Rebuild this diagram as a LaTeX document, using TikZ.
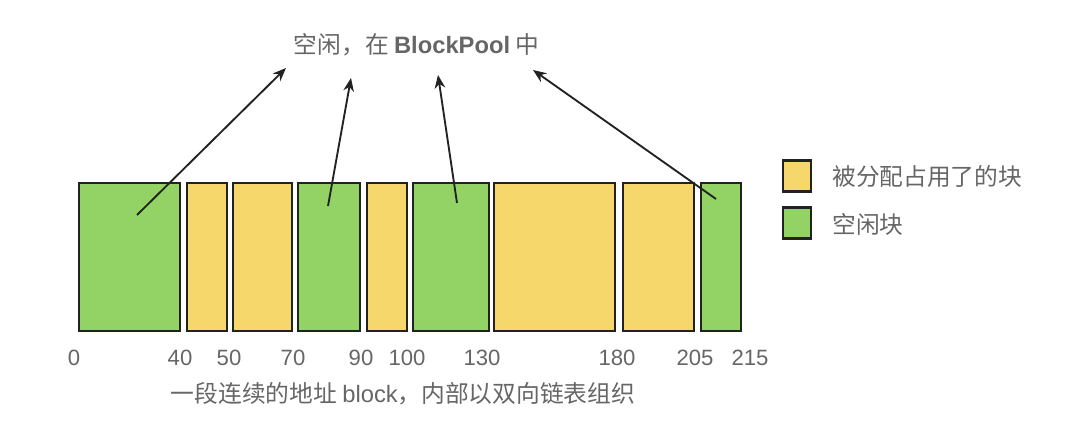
\documentclass[tikz,border=0pt]{standalone}
\usepackage{fontspec}
\setmainfont{Liberation Sans}
\newfontfamily\cjk{Noto Sans CJK SC}
\usetikzlibrary{arrows, arrows.meta}
\definecolor{usedfill}{HTML}{F5D76B}
\definecolor{freefill}{HTML}{93D365}
\definecolor{labelgray}{HTML}{666666}
\definecolor{edgeblack}{HTML}{222222}
\tikzset{
  block/.style={draw=edgeblack, line width=1.7pt, anchor=north west, inner sep=0pt, minimum height=148*0.75pt},
  legendbox/.style={draw=edgeblack, line width=1.7pt, inner sep=0pt, minimum width=28*0.75pt, minimum height=31*0.75pt},
  caption/.style={text=labelgray, font=\fontsize{17.8pt}{20pt}\selectfont\cjk, inner sep=0pt},
  offset/.style={text=labelgray, font=\fontsize{16.6pt}{20pt}\selectfont, inner sep=0pt},
  pointer/.style={draw=edgeblack, line width=1.4pt, -{Stealth[length=10pt, width=8pt]}},
}
\begin{document}
\begin{tikzpicture}[x=0.75pt, y=-0.75pt]
      \useasboundingbox (0,0) rectangle (1080,432);
      % blocks, left edge / width / colour
      \foreach \n/\x/\w/\c in {a/78/101/freefill, b/186/40/usedfill, c/232/59/usedfill, d/297/62/freefill, e/366/40/usedfill, f/412/76/freefill, g/493/121/usedfill, h/622/71/usedfill, i/700/40/freefill} {
        \node[block, fill=\c, minimum width=\w*0.75pt] (\n) at (\x,182) {};
      }
      % offsets under the blocks
      \foreach \v/\x in {0/74, 40/180, 50/229, 70/293, 90/361, 100/407, 130/482, 180/617, 205/695, 215/750} {
        \node[offset] (off\v) at (\x,358) {\v};
      }
      \node[caption] (title) at (416.5,45) {空闲，在 {\fontspec{Liberation Sans}\bfseries BlockPool} 中};
      \node[caption] (bottom) at (403,394) {一段连续的地址 {\fontspec{Liberation Sans}block}，内部以双向链表组织};
      % legend
      \node[legendbox, fill=usedfill] (usedkey) at (797,176) {};
      \node[legendbox, fill=freefill] (freekey) at (797,223) {};
      \node[caption, anchor=west] (usedtext) at (832,176) {被分配占用了的块};
      \node[caption, anchor=west] (freetext) at (832,224) {空闲块};
      % pointers up to the title
      \coordinate (froma) at (137,215);
      \coordinate (fromd) at (328,206);
      \coordinate (fromf) at (457,203);
      \coordinate (fromi) at (716,199);
      \coordinate (toa) at (286,68);
      \coordinate (tod) at (351,78);
      \coordinate (tof) at (438,75);
      \coordinate (toi) at (533,70);
      \draw[pointer] (froma) -- (toa);
      \draw[pointer] (fromd) -- (tod);
      \draw[pointer] (fromf) -- (tof);
      \draw[pointer] (fromi) -- (toi);
    \end{tikzpicture}
\end{document}
